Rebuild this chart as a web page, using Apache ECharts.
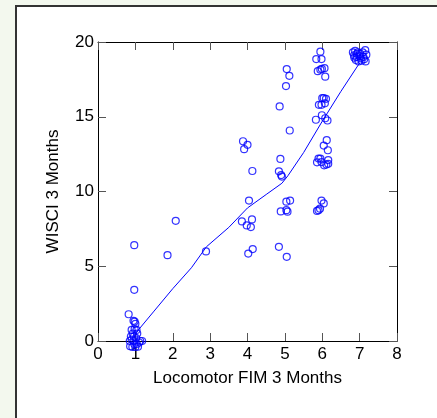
<!DOCTYPE html>
<html><head><meta charset="utf-8">
<script src="https://cdn.jsdelivr.net/npm/echarts@6/dist/echarts.min.js"></script>
<style>
html,body{margin:0;padding:0;width:437px;height:418px;background:#f3f8ee;overflow:hidden;}
#frame{position:absolute;left:15px;top:5px;width:500px;height:500px;border:2px solid #333;background:#fff;}
#c{position:absolute;left:0;top:0;width:437px;height:418px;}
</style></head><body>
<div id="frame"></div>
<div id="c"></div>
<script>
var xTicks = [0,1,2,3,4,5,6,7,8];
var yTicks = [0,5,10,15,20];
var xName = 'Locomotor FIM 3 Months';
var yName = 'WISCI 3 Months';
var scatterPoints = [
  [0.86,-0.35],[0.92,-0.4],[1.0,-0.4],[1.07,-0.38],[1.13,0.0],[1.18,0.0],[0.88,0.3],[0.9,0.1],
  [0.95,0.0],[0.97,-0.2],[1.02,0.2],[1.05,0.5],[0.93,0.5],[0.98,0.8],[1.03,0.74],[0.9,0.74],
  [1.0,1.15],[0.95,1.35],[0.98,1.3],[1.1,-0.1],[0.85,0.0],[1.04,-0.2],[0.96,0.3],
  [0.82,1.79],[0.97,3.42],[0.97,6.41],
  [1.86,5.74],[2.08,8.04],[2.89,5.99],
  [3.88,13.36],[4.0,13.12],[3.91,12.83],[4.13,11.37],[4.04,9.39],[3.85,8.0],[4.12,8.13],
  [3.98,7.73],[4.09,7.62],[4.02,5.85],[4.14,6.15],
  [5.05,18.19],[5.12,17.74],[5.03,17.05],[4.86,15.69],[5.13,14.08],[4.88,12.18],[4.84,11.35],
  [4.9,11.1],[4.92,11.0],[5.04,9.32],[5.14,9.39],[4.89,8.67],[5.04,8.75],[5.07,8.65],
  [4.84,6.3],[5.05,5.63],
  [5.95,19.35],[5.84,18.86],[5.98,18.86],[5.88,18.05],[5.95,18.15],[5.99,18.2],[6.06,18.25],
  [6.08,17.68],[5.91,15.8],[5.98,15.8],[6.0,16.25],[6.04,16.25],[6.1,16.2],[6.07,15.9],
  [5.99,15.1],[5.83,14.8],[6.08,14.9],[6.14,14.75],[6.12,13.43],[6.04,13.07],[6.15,12.76],
  [5.9,12.2],[5.95,12.2],[5.86,11.95],[5.98,11.97],[6.16,12.1],[6.05,11.75],[6.11,11.8],
  [6.16,11.85],[5.98,9.39],[6.04,9.2],[5.86,8.7],[5.9,8.75],[5.94,8.85],
  [6.82,19.3],[6.88,19.4],[6.95,19.3],[7.02,19.2],[7.08,19.3],[7.15,19.45],[6.85,19.1],
  [6.92,19.0],[7.0,19.05],[7.1,19.0],[7.18,19.15],[6.9,18.8],[6.97,18.7],[7.05,18.75],
  [7.12,18.85],[7.16,18.7],[6.86,18.95],[7.03,18.9],[6.93,19.2]
];
var fitLine = [
  [1.0,0.5],[1.5,2.0],[2.0,3.5],[2.5,4.9],[2.9,6.3],[3.5,7.6],[4.0,8.9],[4.5,9.8],
  [4.92,10.55],[5.08,11.05],[5.5,12.6],[6.0,14.7],[6.5,16.7],[7.0,18.6]
];

var chart = echarts.init(document.getElementById('c'));
var font = 'Liberation Sans, Arial, sans-serif';
var lineStyleAxis = {color:'#000', width:1};
var tickStyle = {show:true, inside:true, length:8, lineStyle:{color:'#555', width:1}};
chart.setOption({
  animation:false,
  backgroundColor:'transparent',
  grid:{left:98, right:40, top:42, bottom:77},
  xAxis:[
    {type:'value', min:0, max:8, interval:1, position:'bottom',
     name:xName, nameLocation:'middle', nameGap:29,
     nameTextStyle:{fontFamily:font, fontSize:17, color:'#000'},
     axisLine:{show:true, onZero:false, lineStyle:lineStyleAxis},
     axisTick:tickStyle, splitLine:{show:false},
     axisLabel:{fontFamily:font, fontSize:17, color:'#000', margin:5,
       formatter:function(v){return xTicks.indexOf(v)>=0?String(v):'';}}},
    {type:'value', min:0, max:8, interval:1, position:'top',
     axisLine:{show:true, onZero:false, lineStyle:lineStyleAxis},
     axisTick:tickStyle, splitLine:{show:false}, axisLabel:{show:false}}
  ],
  yAxis:[
    {type:'value', min:0, max:20, interval:5, position:'left',
     name:yName, nameLocation:'middle', nameGap:36,
     nameTextStyle:{fontFamily:font, fontSize:17, color:'#000'},
     axisLine:{show:true, onZero:false, lineStyle:lineStyleAxis},
     axisTick:tickStyle, splitLine:{show:false},
     axisLabel:{fontFamily:font, fontSize:17, color:'#000', margin:4,
       formatter:function(v){return yTicks.indexOf(v)>=0?String(v):'';}}},
    {type:'value', min:0, max:20, interval:5, position:'right',
     axisLine:{show:true, onZero:false, lineStyle:lineStyleAxis},
     axisTick:tickStyle, splitLine:{show:false}, axisLabel:{show:false}}
  ],
  series:[
    {type:'scatter', data:scatterPoints, symbol:'circle', symbolSize:7,
     itemStyle:{color:'transparent', borderColor:'#0000ff', borderWidth:1.2},
     clip:false},
    {type:'line', data:fitLine, showSymbol:false, symbol:'none',
     lineStyle:{color:'#0000ff', width:1}, z:3}
  ]
});
</script>
</body></html>
